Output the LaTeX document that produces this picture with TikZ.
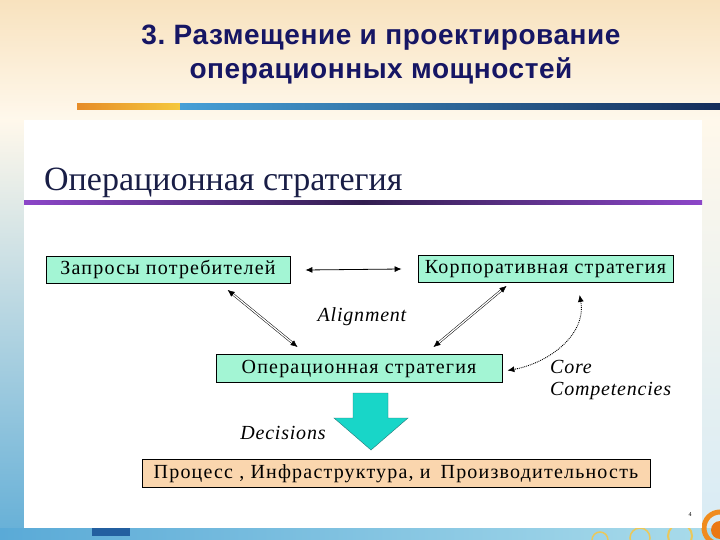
\documentclass[tikz,border=0pt]{standalone}
\usepackage{fontspec}
\setmainfont{Liberation Serif}
\newfontfamily\titlefont[LetterSpace=2]{Liberation Sans}
\newfontfamily\boxfont[LetterSpace=6]{Liberation Serif}
\newfontfamily\lblfont[LetterSpace=4]{Liberation Serif}
\usetikzlibrary{arrows.meta,calc}
\definecolor{aqua}{RGB}{163,245,212}
\definecolor{peach}{RGB}{250,214,174}
\definecolor{turq}{RGB}{24,214,200}
\definecolor{turqedge}{RGB}{40,120,120}
\definecolor{navy}{RGB}{22,22,100}
\definecolor{headnavy}{RGB}{25,30,70}
\definecolor{creamtop}{RGB}{248,226,190}
\definecolor{creambot}{RGB}{255,250,240}
\definecolor{leftbot}{RGB}{100,175,215}
\definecolor{lefttop}{RGB}{255,248,235}
\definecolor{rightbot}{RGB}{215,235,245}
\definecolor{stripL}{RGB}{90,170,215}
\definecolor{stripR}{RGB}{170,220,235}
\definecolor{darkblue}{RGB}{35,95,160}
\definecolor{ringor}{RGB}{240,140,30}
\definecolor{discor}{RGB}{235,120,20}
\definecolor{ringyel}{RGB}{235,200,90}
\definecolor{barorL}{RGB}{230,140,40}
\definecolor{barorR}{RGB}{245,200,60}
\definecolor{barblL}{RGB}{70,160,215}
\definecolor{barblR}{RGB}{20,45,90}
\definecolor{purp}{RGB}{140,70,200}
\definecolor{purpdark}{RGB}{50,30,80}
\tikzset{
  box/.style={draw=black, line width=0.8pt, inner sep=0pt, font=\boxfont\fontsize{20}{22}\selectfont, text height=13pt, text depth=4pt},
  dblarrow/.style={double=white, double distance=1.3pt, line width=0.5pt, {Latex[length=7pt,width=6pt]}-{Latex[length=7pt,width=6pt]}},
  lbl/.style={font=\lblfont\fontsize{20}{22}\selectfont\itshape, inner sep=0pt},
}
\begin{document}
\frenchspacing
\begin{tikzpicture}[x=1pt,y=-1pt]
\useasboundingbox (0,0) rectangle (720,540);
% background
\shade[top color=creamtop, bottom color=creambot] (0,0) rectangle (720,130);
\shade[top color=lefttop, bottom color=leftbot] (0,120) rectangle (24,540);
\shade[top color=lefttop, bottom color=rightbot] (702,120) rectangle (720,540);
\shade[left color=stripL, right color=stripR] (0,528) rectangle (720,540);
\fill[darkblue] (92,528) rectangle (130,536);
\draw[line width=1.5pt, ringyel] (600,540) circle (8);
\draw[line width=1.5pt, ringyel] (640,538) circle (10);
\draw[line width=2pt, ringyel] (680,536) circle (12);
\draw[line width=5pt, ringor] (720,528) circle (16);
\fill[discor] (720,530) circle (9);
\fill[white] (24,120) rectangle (702,528);
% title bar
\shade[left color=barorL, right color=barorR] (77,104) rectangle (180,110);
\shade[left color=barblL, right color=barblR] (180,104) rectangle (720,110);
% title
\node[font=\titlefont\bfseries\fontsize{28}{34}\selectfont, text=navy, align=center] (title) at (381,55) {3. Размещение и проектирование\\операционных мощностей};
% heading
\node[anchor=base west, font=\fontsize{34}{36}\selectfont, text=headnavy, inner sep=0pt] (head) at (44,191) {Операционная стратегия};
\shade[left color=purp, right color=purp, middle color=purpdark] (24,201) rectangle (702,205);
% boxes
\node[box, fill=aqua, minimum width=244pt, minimum height=27pt] (b1) at (168,270) {Запросы потребителей};
\node[box, fill=aqua, minimum width=255pt, minimum height=27pt] (b2) at (545.5,269) {Корпоративная стратегия};
\node[box, fill=aqua, minimum width=286pt, minimum height=28pt] (b3) at (359,368.5) {Операционная стратегия};
\node[box, fill=peach, minimum width=508pt, minimum height=28pt] (b4) at (396,473.5) {Процесс , Инфраструктура, и\enspace Производительность};
% connectors
\draw[line width=0.8pt, {Latex[length=7pt,width=6pt]}-{Latex[length=7pt,width=6pt]}] ([xshift=15pt]b1.east) -- ([xshift=-16pt]b2.west);
\draw[dblarrow] ([xshift=182pt,yshift=-6pt]b1.south west) -- ([xshift=82pt,yshift=7pt]b3.north west);
\draw[dblarrow] ([xshift=89pt,yshift=-3pt]b2.south west) -- ([xshift=-69pt,yshift=7pt]b3.north east);
\draw[line width=0.9pt, densely dotted, {Latex[length=7pt,width=6pt]}-{Latex[length=7pt,width=6pt]}] ([xshift=162pt,yshift=-12pt]b2.south west) to[out=-80, in=10] ([xshift=5pt,yshift=-2pt]b3.east);
% labels
\node[lbl] (align) at (362,317) {Alignment};
\node[lbl, anchor=base west] (core) at (550,373) {Core};
\node[lbl, anchor=base west] (comp) at (550,395) {Competencies};
\node[lbl] (dec) at (283,433) {Decisions};
% big arrow
\draw[fill=turq, draw=turqedge, line width=0.4pt] (353,393) -- (388,393) -- (388,418) -- (408,418) -- (371,450) -- (334,418) -- (353,418) -- cycle;
% page number
\node[font=\fontsize{6}{7}\selectfont, inner sep=0pt] (pg) at (690,515) {4};
\end{tikzpicture}
\end{document}
